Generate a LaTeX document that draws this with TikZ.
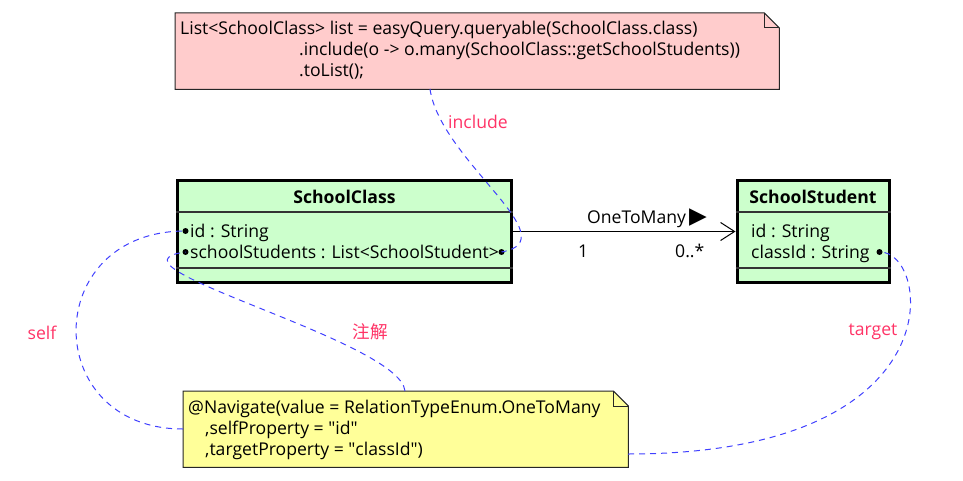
\documentclass[tikz,border=0pt]{standalone}
\usepackage{fontspec}
\setmainfont{Open Sans}
\newfontfamily\cjkfont{Noto Sans CJK SC}
\newfontfamily\symfont{DejaVu Sans}
\usetikzlibrary{arrows.meta}

\definecolor{notepink}{RGB}{255,204,204}
\definecolor{noteyellow}{RGB}{255,255,153}
\definecolor{classgreen}{RGB}{204,255,204}
\definecolor{linkblue}{RGB}{64,64,255}
\definecolor{linklabel}{RGB}{255,51,102}

\tikzset{
  txt/.style={font=\fontsize{17.6}{21}\selectfont, inner sep=0pt},
  line/.style={txt, anchor=base west},
  classbox/.style={draw=black, line width=3pt, fill=classgreen},
  classtitle/.style={txt, anchor=base, font=\fontsize{17.6}{21}\selectfont\bfseries},
  sepline/.style={draw=black!80, line width=1.2pt},
  noteframe/.style={draw=none, anchor=north west, inner sep=0pt},
  notepath/.style={draw=black!85, line width=1pt},
  link/.style={draw=linkblue, line width=1pt, dash pattern=on 6pt off 5pt},
  linktag/.style={txt, text=linklabel},
  assoc/.style={draw=black, line width=1pt, -{Straight Barb[length=14pt,width=18pt,line width=1pt]}},
}

\begin{document}
\begin{tikzpicture}[x=1pt, y=-1pt]
  \useasboundingbox (0,0) rectangle (963,481);

  % Notes
  \node[noteframe, minimum width=604pt, minimum height=76pt] (query) at (175,13) {};
  \node[noteframe, minimum width=445pt, minimum height=76pt] (navi) at (183,391) {};
  \foreach \n/\c in {query/notepink, navi/noteyellow} {
    \filldraw[notepath, fill=\c] (\n.north west) -- ([xshift=-15pt]\n.north east)
      -- ([yshift=-15pt]\n.north east) -- (\n.south east) -- (\n.south west) -- cycle;
    \draw[notepath] ([xshift=-15pt]\n.north east) -- ([xshift=-15pt,yshift=-15pt]\n.north east)
      -- ([yshift=-15pt]\n.north east);
  }

  \node[line] (query1) at (180,35) {List<SchoolClass> list = easyQuery.queryable(SchoolClass.class)};
  \node[line] (query2) at (299,56) {.include(o -> o.many(SchoolClass::getSchoolStudents))};
  \node[line] (query3) at (299,77) {.toList();};

  \node[line] (navi1) at (188,413) {@Navigate(value = RelationTypeEnum.OneToMany};
  \node[line] (navi2) at (205,434) {,selfProperty = \textquotedbl id\textquotedbl};
  \node[line] (navi3) at (205,455) {,targetProperty = \textquotedbl classId\textquotedbl)};

  % Classes
  \node[classbox, minimum width=334pt, minimum height=102pt] (cls) at (344.5,231.5) {};
  \node[classbox, minimum width=152pt, minimum height=102pt] (stu) at (813,231.5) {};
  \foreach \b in {cls, stu} {
    \draw[sepline] ([yshift=-33pt]\b.north west) -- ([yshift=-33pt]\b.north east);
    \draw[sepline] ([yshift=16pt]\b.south west) -- ([yshift=16pt]\b.south east);
  }

  \node[classtitle] (clsname) at (344.5,204) {SchoolClass};
  \node[classtitle] (stuname) at (813,204) {SchoolStudent};

  \node[line] (clsid) at (190,237.5) {id : String};
  \node[line] (clsstu) at (190,258) {schoolStudents : List<SchoolStudent>};
  \node[line] (stuid) at (751,237.5) {id : String};
  \node[line] (stucls) at (751,258) {classId : String};

  \coordinate (dotid) at (185.5,231);
  \coordinate (dotstu) at (185.5,252);
  \coordinate (dotmany) at (501.5,252);
  \coordinate (dotcls) at (879.5,252);
  \foreach \d in {dotid, dotstu, dotmany, dotcls}
    \fill (\d) circle (3pt);

  % Association
  \draw[assoc] (cls.east) -- (stu.west);
  \node[line] (rel) at (587,223) {OneToMany\,{\symfont\fontsize{23}{23}\selectfont ▶}};
  \node[line] (multone) at (578,257) {1};
  \node[line] (multmany) at (675,257) {0..*};

  % Links
  \coordinate (qinc) at (430,89);
  \draw[link] (qinc) .. controls (440,160) and (570,240) .. (dotmany);
  \draw[link] (navi.west |- 0,429) .. controls (40,429) and (40,231) .. (dotid);
  \coordinate (nanno) at (405,391);
  \draw[link] (nanno) .. controls (400,340) and (90,265) .. (dotstu);
  \coordinate (ntarget) at (628,454);
  \draw[link] (ntarget) .. controls (960,454) and (930,250) .. (dotcls);

  \node[linktag] (tinc) at (478,122) {include};
  \node[linktag] (tself) at (42,333) {self};
  \node[linktag, font=\fontsize{17.6}{21}\cjkfont] (tanno) at (370,332) {注解};
  \node[linktag] (ttarget) at (873,332) {target};
\end{tikzpicture}
\end{document}
